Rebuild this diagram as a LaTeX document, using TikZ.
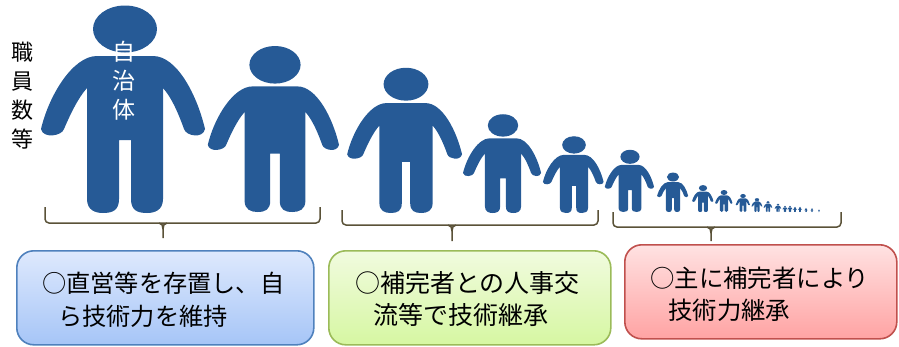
\documentclass[tikz,border=0pt]{standalone}
\usepackage{fontspec}
\setmainfont{Noto Sans CJK JP}
\definecolor{figblue}{HTML}{265A96}
\definecolor{braceline}{HTML}{5A5238}
\definecolor{boxblue}{HTML}{4F81BD}
\definecolor{boxbluetop}{HTML}{DEE9FD}
\definecolor{boxbluebot}{HTML}{A6C5F7}
\definecolor{boxgreen}{HTML}{9BBB59}
\definecolor{boxgreentop}{HTML}{F1FBDF}
\definecolor{boxgreenbot}{HTML}{D6F7A2}
\definecolor{boxred}{HTML}{C0504D}
\definecolor{boxredtop}{HTML}{FFE2E2}
\definecolor{boxredbot}{HTML}{FFA3A3}
\tikzset{
  person/.pic={
    \fill[figblue] (0,-184) ellipse (32 and 23.5);
    \fill[figblue] (-38,-125) .. controls (-47,-115) and (-55,-98) .. (-61,-84)
      .. controls (-63,-77) and (-82,-74) .. (-84,-84)
      .. controls (-76,-118) and (-52,-157) .. (-28,-157) -- (28,-157)
      .. controls (52,-157) and (72,-118) .. (80,-84)
      .. controls (78,-74) and (61,-77) .. (59,-84)
      .. controls (54,-98) and (47,-115) .. (38,-125) -- (38,-14)
      .. controls (38,-3) and (30,0) .. (22,0)
      .. controls (12,0) and (6,-3) .. (6,-14) -- (6,-73) -- (-6,-73) -- (-6,-14)
      .. controls (-6,-3) and (-12,0) .. (-22,0)
      .. controls (-30,0) and (-38,-3) .. (-38,-14) -- cycle;
  },
  notebox/.style={draw,line width=1.6pt,rounded corners=17pt,minimum height=94pt,
    anchor=north west,inner sep=0pt},
  notetext/.style={anchor=west,align=left,inner sep=0pt},
}
\begin{document}
\begin{tikzpicture}[x=1pt,y=-1pt]
  \useasboundingbox (0,0) rectangle (899,346);
  \foreach \px/\py/\ps in {125/213/1,275/212/.80,406/213/.70,503/213/.476,574/213/.37,
      630/212/.30,673/212/.19,703/212/.13,724/212/.106,743/212/.087,757/212/.067,
      768/212/.053,778/212/.04,785/212/.03,790/212/.03,795/212/.025,800/212/.025,
      806/212/.02,812/212/.018,819/212/.012}
    \pic[scale=\ps] at (\px,\py) {person};
  % labels on the figures
  \node[align=center,inner sep=0pt,font=\fontsize{22}{29}\selectfont] (staff) at (23,96) {職\\員\\数\\等};
  \node[align=center,inner sep=0pt,text=white,font=\fontsize{23}{29}\selectfont] (city) at (124,81) {自\\治\\体};
  % braces
  \begin{scope}[draw=braceline,line width=1.5pt]
    \foreach \xa/\xm/\xb/\ya/\yb/\yc in {45/163/320/207/223/238,342/452/598/210/225/241,613/711/841/212/227/241}{
      \draw[rounded corners=4pt] (\xa,\ya) -- (\xa,\yb) -- (\xb,\yb) -- (\xb,\ya);
      \draw (\xm-4,\yb) .. controls (\xm-1,\yb) and (\xm,\yb+3) .. (\xm,\yb+6) -- (\xm,\yc);
      \draw (\xm+4,\yb) .. controls (\xm+1,\yb) and (\xm,\yb+3) .. (\xm,\yb+6);
    }
  \end{scope}
  % boxes
  \node[notebox,minimum width=297pt,draw=boxblue,top color=boxbluetop,bottom color=boxbluebot] (direct) at (16,250) {};
  \node[notebox,minimum width=282pt,draw=boxgreen,top color=boxgreentop,bottom color=boxgreenbot] (mixed) at (328,250) {};
  \node[notebox,minimum width=272pt,draw=boxred,top color=boxredtop,bottom color=boxredbot] (backup) at (624,244) {};
  \node[notetext,font=\fontsize{24.2}{33}\selectfont] (directtext) at (42,300) {○直営等を存置し、自\\\hspace*{16pt}ら技術力を維持};
  \node[notetext,font=\fontsize{25}{32}\selectfont] (mixedtext) at (355,299) {○補完者との人事交\\\hspace*{18pt}流等で技術継承};
  \node[notetext,font=\fontsize{24.4}{32}\selectfont] (backuptext) at (650,294) {○主に補完者により\\\hspace*{18pt}技術力継承};
\end{tikzpicture}
\end{document}
